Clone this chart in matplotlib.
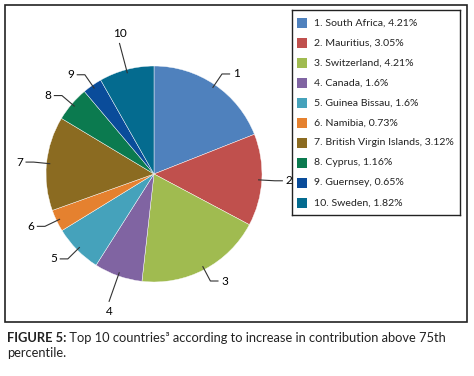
import numpy as np
import matplotlib
matplotlib.use('Agg')
import matplotlib.pyplot as plt
from matplotlib.patches import Rectangle

# data
countries = ['South Africa', 'Mauritius', 'Switzerland', 'Canada', 'Guinea Bissau',
             'Namibia', 'British Virgin Islands', 'Cyprus', 'Guernsey', 'Sweden']
shares = [4.21, 3.05, 4.21, 1.6, 1.6, 0.73, 3.12, 1.16, 0.65, 1.82]
share_labels = ['4.21%', '3.05%', '4.21%', '1.6%', '1.6%', '0.73%', '3.12%', '1.16%', '0.65%', '1.82%']
colors = ['#4f81bd', '#c0504d', '#a0bb50', '#8064a2', '#45a2bb',
          '#e5812f', '#8b6b21', '#0b7a4f', '#0a4c9a', '#046b8f']

plt.rcParams['font.family'] = ['Lato', 'DejaVu Sans']

W, H = 474, 376
fig = plt.figure(figsize=(W / 100, H / 100), dpi=100)

def px(x, y, w, h):
    # pixel box (from top-left) -> figure fraction
    return [x / W, 1 - (y + h) / H, w / W, h / H]

# outer frame
fig.patches.append(Rectangle((5 / W, 1 - 322 / H), 462 / W, 317 / H, transform=fig.transFigure,
                             fill=False, edgecolor='#222222', linewidth=1.2))

# pie axes, center (154,174), r=108 px
R = 108.0
cx, cy = 154, 174
ax = fig.add_axes(px(0, 0, 300, 306))
wedges, _ = ax.pie(shares, colors=colors, startangle=90, counterclock=False,
                   wedgeprops=dict(edgecolor='white', linewidth=0.3))
ax.set_xlim(-cx / R, (300 - cx) / R)
ax.set_ylim(-(306 - cy) / R, cy / R)
ax.set_aspect('auto')

# leader lines with number labels
for i, w in enumerate(wedges):
    ang = np.deg2rad((w.theta1 + w.theta2) / 2)
    c, s = np.cos(ang), np.sin(ang)
    p0 = (0.97 * c, 0.97 * s)
    p1 = (1.12 * c, 1.12 * s)
    lab = str(i + 1)
    if abs(c) < 0.35:
        p1 = (1.25 * c, 1.25 * s)
        ax.plot([p0[0], p1[0]], [p0[1], p1[1]], color='#333333', lw=0.8)
        va = 'bottom' if s > 0 else 'top'
        ax.text(p1[0], p1[1] + (0.04 if s > 0 else -0.04), lab, ha='center', va=va, fontsize=8.5)
    else:
        sg = 1 if c > 0 else -1
        p2 = (p1[0] + sg * 0.07, p1[1])
        ax.plot([p0[0], p1[0], p2[0]], [p0[1], p1[1], p2[1]], color='#333333', lw=0.8)
        ax.text(p2[0] + sg * 0.03, p2[1], lab, ha='left' if sg > 0 else 'right',
                va='center', fontsize=8.5)

# legend, drawn by hand in pixel coords
lax = fig.add_axes(px(292, 10, 168, 205))
lax.patch.set_alpha(0)
lax.set_xlim(0, 168)
lax.set_ylim(205, 0)
lax.set_xticks([])
lax.set_yticks([])
for sp in lax.spines.values():
    sp.set_color('#222222')
    sp.set_linewidth(1.0)
for i in range(len(countries)):
    yy = 12.7 + 20 * i
    lax.add_patch(Rectangle((5, yy - 5), 10, 10, facecolor=colors[i], edgecolor='none'))
    lax.text(22, yy, f'{i + 1}. {countries[i]}, {share_labels[i]}', fontsize=7.55,
             va='center', ha='left', color='#222222')

# caption
t1 = fig.text(7 / W, 1 - 338 / H, 'FIGURE 5:', fontsize=9.3, fontweight='bold',
              color='#222222', va='center')
ax.annotate(' Top 10 countries\u00b3 according to increase in contribution above 75th',
            xy=(1, 0), xycoords=t1, va='bottom', ha='left', fontsize=9.3, color='#222222',
            annotation_clip=False)
fig.text(7 / W, 1 - 353 / H, 'percentile.', fontsize=9.3, color='#222222', va='center')

fig.savefig('out.png', dpi=100)
